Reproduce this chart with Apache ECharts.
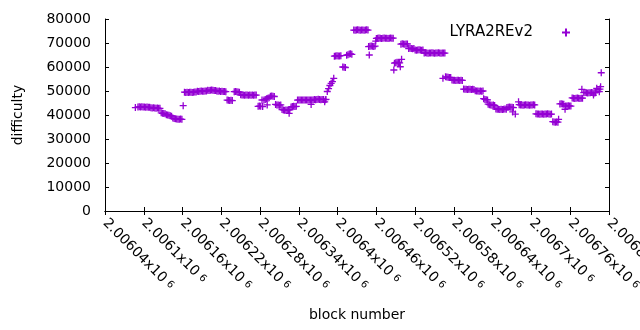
<!DOCTYPE html>
<html>
<head>
<meta charset="utf-8">
<script src="https://cdn.jsdelivr.net/npm/echarts@6/dist/echarts.min.js"></script>
<style>
  html, body { margin: 0; padding: 0; background: #fff; }
  #main { width: 640px; height: 330px; }
</style>
</head>
<body>
<div id="main"></div>
<script>
// LYRA2REv2 difficulty by block: [block, difficulty]
const earlyPoints = [
  [2006087,43100],
  [2006091,43300],[2006093,43400],[2006095,43300],[2006097,43400],[2006099,43300],[2006101,43300],[2006103,43200],[2006105,43300],[2006107,43200],[2006109,43200],
  [2006111,43000],[2006113,42900],[2006115,43000],[2006117,42900],[2006119,42800],[2006121,42900],[2006123,42800],[2006125,42800],
  [2006127,40900],[2006129,40700],[2006131,40600],[2006133,40500],
  [2006135,40100],[2006137,40000],[2006139,39900],[2006141,39700],[2006143,39500],
  [2006145,38700],[2006147,38500],[2006149,38400],[2006151,38300],[2006153,38200],[2006155,38200],[2006157,38300],[2006159,38200],
  [2006161,43900],
  [2006163,49500],[2006165,49400],[2006167,49500],[2006169,49400],[2006171,49500],[2006173,49500],[2006175,49400],[2006177,49500],[2006179,49600],[2006181,49600],
  [2006183,49900],[2006185,49800],[2006187,49900],[2006189,50000],[2006191,49900],[2006193,49900],[2006195,50000],[2006197,50000],
  [2006199,50300],[2006201,50200],[2006203,50300],[2006205,50400],[2006207,50300],[2006209,50200],[2006211,50200],
  [2006213,50000],[2006215,49900],[2006217,50000],[2006219,49800],[2006221,49900],[2006223,49800],[2006225,49800],[2006227,49700],
  [2006229,46200],[2006231,46100],[2006233,46000],[2006235,46100],[2006237,46000],
  [2006240,49700],[2006242,49800],[2006244,49700],[2006246,49600],[2006248,49500],
  [2006250,48400],[2006252,48300],[2006254,48300],[2006256,48200],[2006258,48300],[2006260,48300],[2006262,48200],[2006264,48300],[2006266,48200],[2006268,48300],[2006270,48200],[2006272,48300],[2006274,48300],
  [2006277,43600],[2006279,43700],[2006281,43600],[2006283,46250],[2006284,43500],
  [2006286,46300],[2006288,46500],[2006290,46800],[2006291,44200],[2006292,47000],[2006294,47200],
  [2006296,47800],[2006298,47900],[2006300,47800],[2006302,47700],
  [2006304,44400],[2006306,44200],[2006308,44200],[2006310,44100],[2006312,44200],
  [2006314,42300],[2006316,42100],[2006318,42000],[2006320,42100],[2006322,42000],[2006324,42200],[2006325,40700],[2006326,42100],
  [2006328,43300],[2006330,43500],[2006332,43600],[2006334,43500],[2006336,43600],
  [2006338,46200],[2006340,46300],[2006342,46200],[2006344,46300],[2006346,46300],[2006348,46200],[2006350,46300],[2006352,46200],[2006354,46300],[2006356,46200],[2006358,46300],[2006359,44400],[2006360,46300],[2006362,46200],
  [2006364,46500],[2006366,46400],[2006368,46500],[2006370,46600],[2006372,46500],[2006374,46400],[2006376,46500],[2006378,46500],[2006380,45500],[2006381,46400],[2006382,46500],
  [2006384,49800],[2006386,51000],[2006388,52300],[2006390,53200],[2006392,53900],[2006394,55300]
];

const peakPoints = [
  [2006395,64500],[2006397,64600],[2006399,64700],[2006401,64600],[2006403,64600],[2006405,64700],
  [2006408,60000],[2006410,59900],[2006412,59800],
  [2006414,64900],[2006416,65100],[2006418,65400],[2006420,65500],[2006422,65300],
  [2006425,75400],[2006427,75300],[2006429,75400],[2006431,75500],[2006433,75400],[2006435,75300],[2006437,75400],[2006439,75400],[2006441,75300],[2006443,75400],[2006445,75500],[2006447,75400],
  [2006448,68500],[2006449,65000],[2006450,68600],[2006452,68700],[2006454,68600],[2006456,68500],[2006458,68700],
  [2006459,70800],
  [2006460,71900],[2006462,72000],[2006464,72100],[2006466,72000],[2006468,71900],[2006470,72000],[2006472,72100],[2006474,72000],[2006476,72000],[2006478,71900],[2006480,72000],[2006482,72100],[2006484,72000],[2006486,72000],
  [2006487,58750],
  [2006488,61600],[2006490,61800],[2006492,62000],[2006494,61800],[2006496,61700],
  [2006497,60100],[2006499,63200],
  [2006498,69500],[2006500,69700],[2006502,69600],[2006504,69500],[2006506,69600],[2006508,69600],
  [2006510,67700],[2006512,67800],[2006514,67700],[2006516,67600],[2006518,67700],
  [2006520,67100],[2006522,67000],[2006524,67100],[2006526,67200],[2006528,67100],[2006530,67000],[2006532,67100],
  [2006534,65800],[2006536,65900],[2006538,65800],[2006540,65700],[2006542,65800],[2006544,65800],[2006546,65900],[2006548,65800],[2006550,65700],[2006552,65800],[2006554,65800],[2006556,65900],[2006558,65800],[2006560,65700],[2006562,65800],[2006564,65800],[2006566,65800]
];

const latePoints = [
  [2006563,55300],
  [2006567,55900],[2006569,55800],[2006571,55700],[2006573,55600],[2006575,55600],
  [2006577,54600],[2006579,54500],[2006581,54500],[2006583,54400],[2006585,54500],[2006587,54500],[2006589,54400],[2006591,54500],[2006593,54400],
  [2006595,50800],[2006597,50700],[2006599,50700],[2006601,50600],[2006603,50700],[2006605,50700],[2006607,50600],[2006609,50700],[2006611,50600],
  [2006613,50100],[2006615,50000],[2006617,50000],[2006619,49900],[2006621,50000],[2006623,49900],[2006625,50000],
  [2006626,46800],[2006628,46500],[2006630,46400],[2006632,46300],
  [2006633,44500],[2006635,44300],[2006637,44200],[2006639,44100],[2006641,44200],[2006643,44000],
  [2006645,42500],[2006647,42400],[2006649,42400],[2006651,42300],[2006653,42400],[2006655,42300],[2006657,42400],[2006659,42500],[2006661,42400],
  [2006662,43100],[2006664,43200],[2006666,43300],[2006668,43200],[2006670,43200],[2006671,41300],[2006672,43100],
  [2006675,40400],
  [2006680,45500],
  [2006681,44300],[2006683,44200],[2006685,44200],[2006687,44100],[2006689,44200],[2006691,44300],[2006693,44200],[2006695,44200],[2006697,44100],[2006699,44200],[2006701,44200],[2006703,44300],[2006705,44200],
  [2006707,40500],[2006709,40400],[2006711,40400],[2006713,40300],[2006715,40400],[2006717,40400],[2006719,40300],[2006721,40400],[2006723,40400],[2006725,40500],[2006727,40400],[2006729,40300],[2006731,40400],
  [2006733,37200],[2006735,37100],[2006737,37000],[2006739,37100],[2006741,37000],
  [2006742,38200],
  [2006744,44600],[2006746,44700],[2006748,44600],[2006750,44500],
  [2006752,42400],[2006753,43800],[2006755,43700],[2006757,43900],[2006759,43800],[2006761,43700],
  [2006763,47100],[2006765,47000],[2006767,46900],[2006769,47000],[2006771,47100],[2006773,47000],[2006775,46900],[2006777,47000],[2006779,47000],
  [2006778,50700],
  [2006781,49300],[2006783,49400],[2006785,49300],[2006787,49200],[2006789,49300],[2006791,49300],[2006793,49400],[2006795,49300],[2006797,49200],[2006799,49300],
  [2006796,48300],
  [2006801,51100],[2006803,50600],[2006805,49700],[2006806,50800],[2006807,51800],[2006808,57600]
];

const seriesName = 'LYRA2REv2';
const plusMark = 'path://M0,4H8M4,0V8';
const font = 'DejaVu Sans';

// gnuplot style tick label: 2.00604x10^6
function sciLabel(v) {
  const m = (v / 1e6).toFixed(5).replace(/0+$/, '').replace(/\.$/, '');
  return '{m|' + m + 'x10}{e|6}';
}

const chart = echarts.init(document.getElementById('main'));

const axisLine = { show: true, lineStyle: { color: '#000', width: 1 } };
const tick = { show: true, inside: true, length: 4, lineStyle: { color: '#000', width: 1 } };

chart.setOption({
  animation: false,
  backgroundColor: '#fff',
  textStyle: { fontFamily: font },
  grid: { left: 105, right: 31, top: 19, bottom: 119, outerBoundsMode: 'none' },
  legend: {
    data: [seriesName],
    right: 69,
    top: 25,
    padding: 0,
    align: 'right',
    itemWidth: 8,
    itemHeight: 8,
    icon: plusMark,
    textStyle: { fontSize: 15, color: '#000', fontFamily: font, padding: [0, 24, 0, 0] }
  },
  xAxis: [
    {
      type: 'value',
      position: 'bottom',
      min: 2006040,
      max: 2006820,
      interval: 60,
      axisLine: axisLine,
      axisTick: tick,
      splitLine: { show: false },
      axisLabel: {
        rotate: -45,
        margin: 10,
        color: '#000',
        showMinLabel: true,
        showMaxLabel: true,
        formatter: sciLabel,
        rich: {
          m: { fontSize: 14, fontFamily: font, color: '#000', verticalAlign: 'bottom' },
          e: { fontSize: 10, fontFamily: font, color: '#000', verticalAlign: 'bottom', padding: [0, 0, 3, 4] }
        }
      },
      name: 'block number',
      nameLocation: 'middle',
      nameGap: 97,
      nameTextStyle: { fontSize: 14, color: '#000', fontFamily: font }
    },
    {
      type: 'value',
      position: 'top',
      min: 2006040,
      max: 2006820,
      interval: 60,
      axisLine: axisLine,
      axisTick: tick,
      axisLabel: { show: false },
      splitLine: { show: false }
    }
  ],
  yAxis: [
    {
      type: 'value',
      position: 'left',
      min: 0,
      max: 80000,
      interval: 10000,
      axisLine: axisLine,
      axisTick: tick,
      splitLine: { show: false },
      axisLabel: { margin: 14, fontSize: 14, color: '#000', fontFamily: font, formatter: v => String(v) },
      name: 'difficulty',
      nameLocation: 'middle',
      nameRotate: 90,
      nameGap: 80,
      nameTextStyle: { fontSize: 14, color: '#000', fontFamily: font }
    },
    {
      type: 'value',
      position: 'right',
      min: 0,
      max: 80000,
      interval: 10000,
      axisLine: axisLine,
      axisTick: tick,
      axisLabel: { show: false },
      splitLine: { show: false }
    }
  ],
  series: [
    {
      name: seriesName,
      type: 'scatter',
      xAxisIndex: 0,
      yAxisIndex: 0,
      data: earlyPoints.concat(peakPoints, latePoints),
      symbol: plusMark,
      symbolSize: 7,
      silent: true,
      itemStyle: { color: 'rgba(0,0,0,0)', borderColor: '#9400d3', borderWidth: 1.3, opacity: 1 }
    }
  ]
});
</script>
</body>
</html>
